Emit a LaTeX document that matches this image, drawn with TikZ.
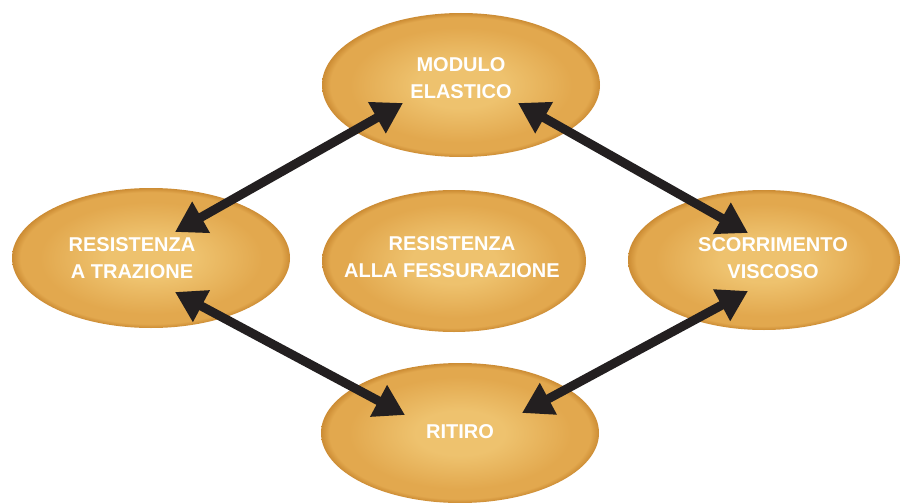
\documentclass[tikz,border=0pt]{standalone}
\usepackage{fontspec}
\setmainfont{Liberation Sans}
\usetikzlibrary{arrows.meta,shapes.geometric}
\definecolor{goldin}{RGB}{238,194,110}
\definecolor{goldmid}{RGB}{226,168,78}
\definecolor{goldrim}{RGB}{204,140,52}
\definecolor{arrowink}{RGB}{35,31,32}
\pgfdeclareradialshading{goldball}{\pgfpoint{0bp}{0bp}}{color(0bp)=(goldin); color(8bp)=(goldin); color(20bp)=(goldmid); color(23.5bp)=(goldmid); color(25bp)=(goldrim); color(50bp)=(goldrim)}
\begin{document}
\begin{tikzpicture}[x=1pt,y=-1pt,
  blob/.style={ellipse, shading=goldball, inner sep=0pt, draw=none},
  lbl/.style={text=white, font=\bfseries\fontsize{20}{27}\selectfont, align=center},
  dbl/.style={arrowink, line width=9pt, {Triangle[length=30pt,width=34pt]}-{Triangle[length=30pt,width=34pt]}, shorten <=0pt, shorten >=0pt}]
\useasboundingbox (0,0) rectangle (903,503);
\fill[white] (0,0) rectangle (903,503);
\node[blob, minimum width=278pt, minimum height=144pt] (top) at (461,85) {};
\node[blob, minimum width=278pt, minimum height=140pt] (left) at (151,258) {};
\node[blob, minimum width=264pt, minimum height=142pt] (mid) at (454,261) {};
\node[blob, minimum width=272pt, minimum height=140pt] (right) at (764,260) {};
\node[blob, minimum width=278pt, minimum height=140pt] (bot) at (460,433) {};
\node[lbl] (ttop) at (461,78) {MODULO\\ELASTICO};
\node[lbl] (tleft) at (132,258) {RESISTENZA\\A TRAZIONE};
\node[lbl] (tmid) at (452,257) {RESISTENZA\\ALLA FESSURAZIONE};
\node[lbl] (tright) at (773,258) {SCORRIMENTO\\VISCOSO};
\node[lbl] (tbot) at (460,432) {RITIRO};
\coordinate (lu) at ([shift={(24,-26)}]left.center);
\coordinate (ld) at ([shift={(24,34)}]left.center);
\coordinate (tl) at ([shift={(-58,18)}]top.center);
\coordinate (tr) at ([shift={(57,18)}]top.center);
\coordinate (ru) at ([shift={(-16,-27)}]right.center);
\coordinate (rd) at ([shift={(-16,31)}]right.center);
\coordinate (bl) at ([shift={(-55,-18)}]bot.center);
\coordinate (br) at ([shift={(62,-20)}]bot.center);
\draw[dbl] (lu) -- (tl);
\draw[dbl] (tr) -- (ru);
\draw[dbl] (ld) -- (bl);
\draw[dbl] (br) -- (rd);
\end{tikzpicture}
\end{document}
